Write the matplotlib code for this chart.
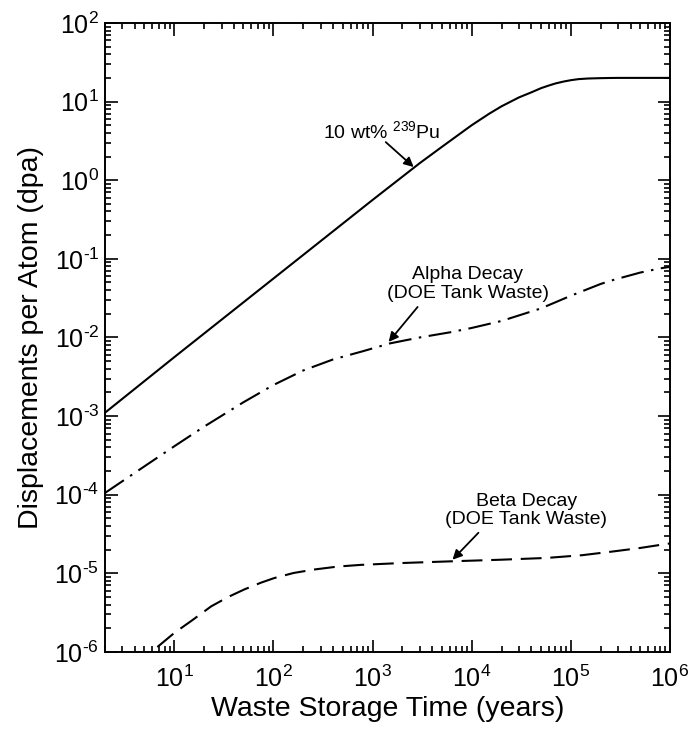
import matplotlib
matplotlib.use("Agg")
import matplotlib.pyplot as plt
import numpy as np
from matplotlib.ticker import LogLocator, NullFormatter, FuncFormatter

plt.rcParams['font.family'] = ['Liberation Sans', 'DejaVu Sans']
plt.rcParams['mathtext.fontset'] = 'custom'
plt.rcParams['mathtext.rm'] = 'Liberation Sans'
plt.rcParams['mathtext.it'] = 'Liberation Sans'
plt.rcParams['axes.unicode_minus'] = False

# values (years, dpa)
pu_t = [2, 10, 100, 1000, 3000, 5000, 1e4, 1.5e4, 2e4, 3e4, 4e4, 5e4, 6e4, 7e4, 8.5e4, 1e5,
        1.2e5, 1.5e5, 2e5, 2.5e5, 3e5, 1e6]
pu_dpa = [1.1e-3, 5.6e-3, 0.056, 0.56, 1.65, 2.65, 5.0, 7.0, 8.7, 11.3, 13.1, 14.8, 16.0, 17.0,
          18.0, 18.7, 19.3, 19.65, 19.85, 19.95, 20.0, 20.0]

alpha_t = [2, 5, 10, 20, 50, 100, 200, 400, 800, 1500, 3000, 6000, 1e4, 2e4, 5e4, 1e5, 2e5,
           2.7e5, 5e5, 8e5, 1e6]
alpha_dpa = [1.05e-4, 2.29e-4, 4.12e-4, 7.33e-4, 1.5e-3, 2.48e-3, 3.8e-3, 5.25e-3, 6.68e-3,
             8.4e-3, 1.0e-2, 1.16e-2, 1.32e-2, 1.62e-2, 2.34e-2, 3.39e-2, 4.79e-2, 5.4e-2,
             6.68e-2, 7.57e-2, 7.9e-2]

beta_t = [4, 5.9, 10, 15, 23.6, 35, 51, 75, 102, 160, 257, 450, 760, 1920, 6120, 2e4, 5.75e4,
          1.3e5, 2.7e5, 5e5, 8e5, 1e6]
beta_dpa = [6.6e-7, 1.0e-6, 1.74e-6, 2.5e-6, 3.8e-6, 5.0e-6, 6.24e-6, 7.6e-6, 8.7e-6, 1.01e-5,
            1.117e-5, 1.22e-5, 1.28e-5, 1.35e-5, 1.42e-5, 1.49e-5, 1.57e-5, 1.7e-5, 1.9e-5,
            2.1e-5, 2.3e-5, 2.4e-5]

x_decades = [10.0**k for k in range(1, 7)]
y_decades = [10.0**k for k in range(-6, 3)]


def decade_label(v, pos):
    e = int(round(np.log10(v)))
    if e < 0:
        return r'$\mathdefault{10^{\text{-}%d}}$' % (-e)
    return r'$\mathdefault{10^{%d}}$' % e


fig = plt.figure(figsize=(6.9, 7.4), dpi=100)
ax = fig.add_axes([0.152, 0.119, 0.819, 0.850])

ax.plot(pu_t, pu_dpa, color='k', lw=1.5)
ax.plot(alpha_t, alpha_dpa, color='k', lw=1.5, dashes=[11, 3.6, 1.2, 3.6])
ax.plot(beta_t, beta_dpa, color='k', lw=1.5, dashes=[10, 4.2])

ax.set_xscale('log')
ax.set_yscale('log')
ax.set_xlim(2, 1e6)
ax.set_ylim(1e-6, 1e2)

ax.set_xticks(x_decades)
ax.set_yticks(y_decades)
ax.xaxis.set_minor_locator(LogLocator(base=10, subs=range(2, 10), numticks=20))
ax.yaxis.set_minor_locator(LogLocator(base=10, subs=range(2, 10), numticks=20))
ax.xaxis.set_major_formatter(FuncFormatter(decade_label))
ax.yaxis.set_major_formatter(FuncFormatter(decade_label))
ax.xaxis.set_minor_formatter(NullFormatter())
ax.yaxis.set_minor_formatter(NullFormatter())
ax.set_xlim(2, 1e6)
ax.set_ylim(1e-6, 1e2)

ax.tick_params(which='both', direction='in', top=True, right=True, width=1.2, labelsize=18)
ax.tick_params(which='major', length=9)
ax.tick_params(which='minor', length=4.5)
ax.tick_params(axis='x', pad=10)
ax.tick_params(axis='y', pad=4)
for s in ax.spines.values():
    s.set_linewidth(1.4)

ax.set_xlabel('Waste Storage Time (years)', fontsize=20.5, labelpad=3)
ax.set_ylabel('Displacements per Atom (dpa)', fontsize=20.5, labelpad=7)

arrow = dict(arrowstyle='-|>', color='k', lw=1.3, mutation_scale=14, shrinkA=0, shrinkB=0)

ax.text(1240, 3.43, '10 wt% $^{239}$Pu', fontsize=14, ha='center', va='baseline')
ax.annotate('', xy=(2600, 1.47), xytext=(1360, 3.05), arrowprops=arrow)

ax.text(9080, 0.0479, 'Alpha Decay\n(DOE Tank Waste)', fontsize=14, ha='center', va='center',
        linespacing=1.1)
ax.annotate('', xy=(1455, 8.77e-3), xytext=(2850, 0.0244), arrowprops=arrow)

ax.text(35500, 6.24e-5, 'Beta Decay\n(DOE Tank Waste)', fontsize=14, ha='center', va='center',
        linespacing=1.1)
ax.annotate('', xy=(6410, 1.49e-5), xytext=(11700, 3.28e-5), arrowprops=arrow)

fig.savefig('out.png', dpi=100)
